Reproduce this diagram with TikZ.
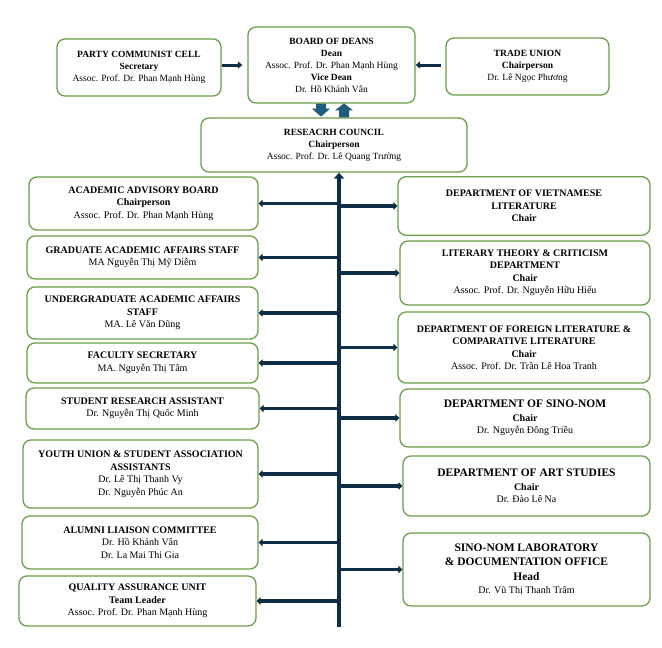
\documentclass[tikz,border=0pt]{standalone}
\usepackage{fontspec}
\setmainfont{Liberation Serif}
\usetikzlibrary{arrows.meta}
\definecolor{unitgreen}{HTML}{6A9F48}
\definecolor{trunkblue}{HTML}{0E2D47}
\definecolor{blockblue}{HTML}{1F5B7A}
\tikzset{
  unit/.style={draw=unitgreen, line width=1.3pt, rounded corners=8pt, fill=white,
    align=center, inner sep=1pt, font=\fontsize{10}{12.5}\selectfont},
  topunit/.style={unit, font=\fontsize{9.5}{12}\selectfont},
  link/.style={draw=trunkblue, line width=3pt, -{Triangle[length=4.5pt,width=7pt]}},
  branch/.style={draw=trunkblue, line width=3.6pt, -{Triangle[length=4pt,width=7.5pt]}},
  trunk/.style={draw=trunkblue, line width=4.5pt, -{Triangle[length=6pt,width=10pt]}}
}
\newcommand{\bigtitle}[1]{{\fontsize{11.5}{14}\selectfont\textbf{#1}}}
\begin{document}
\begin{tikzpicture}[x=1pt, y=-1pt]
    \useasboundingbox[fill=white] (0,0) rectangle (662,648);
    % top row
    \node(party)[topunit, minimum width=164pt, minimum height=57pt] at (139,67.5)
      {\textbf{PARTY COMMUNIST CELL}\\ \textbf{Secretary}\\ Assoc. Prof. Dr. Phan Mạnh Hùng};
    \node(board)[topunit, minimum width=167pt, minimum height=76pt] at (331.5,65)
      {\textbf{BOARD OF DEANS}\\ \textbf{Dean}\\ Assoc. Prof. Dr. Phan Mạnh Hùng\\ \textbf{Vice Dean}\\ Dr. Hồ Khánh Vân};
    \node(trade)[topunit, minimum width=163pt, minimum height=57pt] at (527.5,66.5)
      {\textbf{TRADE UNION}\\ \textbf{Chairperson}\\ Dr. Lê Ngọc Phương};
    \node(council)[topunit, minimum width=266pt, minimum height=54pt] at (334,145)
      {\textbf{RESEACRH COUNCIL}\\ \textbf{Chairperson}\\ Assoc. Prof. Dr. Lê Quang Trường};
    % left column
    \node(aab)[unit, minimum width=229pt, minimum height=53pt] at (143.5,203.5)
      {\textbf{ACADEMIC ADVISORY BOARD}\\ \textbf{Chairperson}\\ Assoc. Prof. Dr. Phan Mạnh Hùng};
    \node(grad)[unit, minimum width=231pt, minimum height=43pt] at (142.5,257.5)
      {\textbf{GRADUATE ACADEMIC AFFAIRS STAFF}\\ MA Nguyễn Thị Mỹ Diễm};
    \node(under)[unit, minimum width=231pt, minimum height=52pt] at (142.5,313)
      {\textbf{UNDERGRADUATE ACADEMIC AFFAIRS}\\ \textbf{STAFF}\\ MA. Lê Văn Dũng};
    \node(facsec)[unit, minimum width=231pt, minimum height=40pt] at (142.5,363)
      {\textbf{FACULTY SECRETARY}\\ MA. Nguyễn Thị Tâm};
    \node(stud)[unit, minimum width=233pt, minimum height=41pt] at (142.5,408.5)
      {\textbf{STUDENT RESEARCH ASSISTANT}\\ Dr. Nguyễn Thị Quốc Minh};
    \node(youth)[unit, minimum width=235pt, minimum height=68pt] at (140.5,474)
      {\textbf{YOUTH UNION \& STUDENT ASSOCIATION}\\ \textbf{ASSISTANTS}\\ Dr. Lê Thị Thanh Vy\\ Dr. Nguyễn Phúc An};
    \node(alumni)[unit, minimum width=236pt, minimum height=53pt] at (140,542.5)
      {\textbf{ALUMNI LIAISON COMMITTEE}\\ Dr. Hồ Khánh Vân\\ Dr. La Mai Thi Gia};
    \node(qa)[unit, minimum width=237pt, minimum height=50pt] at (137.5,601)
      {\textbf{QUALITY ASSURANCE UNIT}\\ \textbf{Team Leader}\\ Assoc. Prof. Dr. Phan Mạnh Hùng};
    % right column
    \node(viet)[unit, minimum width=252pt, minimum height=58pt] at (524,206)
      {\rule{0pt}{19pt}\textbf{DEPARTMENT OF VIETNAMESE}\\ \textbf{LITERATURE}\\ \textbf{Chair}\\ \rule{0pt}{10pt}};
    \node(lit)[unit, minimum width=250pt, minimum height=64pt] at (525,273)
      {\textbf{LITERARY THEORY \& CRITICISM}\\ \textbf{DEPARTMENT}\\ \textbf{Chair}\\ Assoc. Prof. Dr. Nguyễn Hữu Hiếu};
    \node(foreign)[unit, minimum width=252pt, minimum height=71pt] at (524,347.5)
      {\textbf{DEPARTMENT OF FOREIGN LITERATURE \&}\\ \textbf{COMPARATIVE LITERATURE}\\ \textbf{Chair}\\ Assoc. Prof. Dr. Trần Lê Hoa Tranh};
    \node(sino)[unit, minimum width=250pt, minimum height=58pt] at (525,418)
      {\bigtitle{DEPARTMENT OF SINO-NOM}\\[1pt] \textbf{Chair}\\ Dr. Nguyễn Đông Triều};
    \node(art)[unit, minimum width=247pt, minimum height=60pt] at (526.5,486)
      {\bigtitle{DEPARTMENT OF ART STUDIES}\\[1pt] \textbf{Chair}\\ Dr. Đào Lê Na};
    \node(lab)[unit, minimum width=247pt, minimum height=73pt] at (526.5,569.5)
      {\bigtitle{SINO-NOM LABORATORY}\\[2pt] \bigtitle{\& DOCUMENTATION OFFICE}\\[2pt] \bigtitle{Head}\\[1pt] Dr. Vũ Thị Thanh Trâm};
    % links to the board
    \draw[link, shorten >=5pt] (party.east |- board.west) -- (board.west);
    \draw[link, shorten <=4pt] (trade.west |- board.east) -- (board.east);
    \coordinate(dn) at ([xshift=-10.5pt]board.south);
    \fill[blockblue] (dn) ++(-5,0) -- ++(10,0) -- ++(0,5) -- ++(4,0) -- ++(-9,8) -- ++(-9,-8) -- ++(4,0) -- cycle;
    \coordinate(up) at ([xshift=10pt]council.north);
    \fill[blockblue] (up) ++(-5,0) -- ++(0,-7) -- ++(-4,0) -- ++(9,-7) -- ++(9,7) -- ++(-4,0) -- ++(0,7) -- cycle;
    % trunk and branches
    \coordinate(base) at (339,627);
    \draw[trunk] (base) -- (base |- council.south);
    \draw[branch] (base |- aab.east) -- (aab.east);
    \draw[branch] (base |- grad.east) -- (grad.east);
    \draw[branch] (base |- under.east) -- (under.east);
    \draw[branch] (base |- facsec.east) -- (facsec.east);
    \draw[branch] (base |- stud.east) -- (stud.east);
    \draw[branch] (base |- youth.east) -- (youth.east);
    \draw[branch] (base |- alumni.east) -- (alumni.east);
    \draw[branch] (base |- qa.east) -- (qa.east);
    \draw[branch] (base |- viet.west) -- (viet.west);
    \draw[branch] (base |- lit.west) -- (lit.west);
    \draw[branch] (base |- foreign.west) -- (foreign.west);
    \draw[branch] (base |- sino.west) -- (sino.west);
    \draw[branch] (base |- art.west) -- (art.west);
    \draw[branch] (base |- lab.west) -- (lab.west);
\end{tikzpicture}
\end{document}
